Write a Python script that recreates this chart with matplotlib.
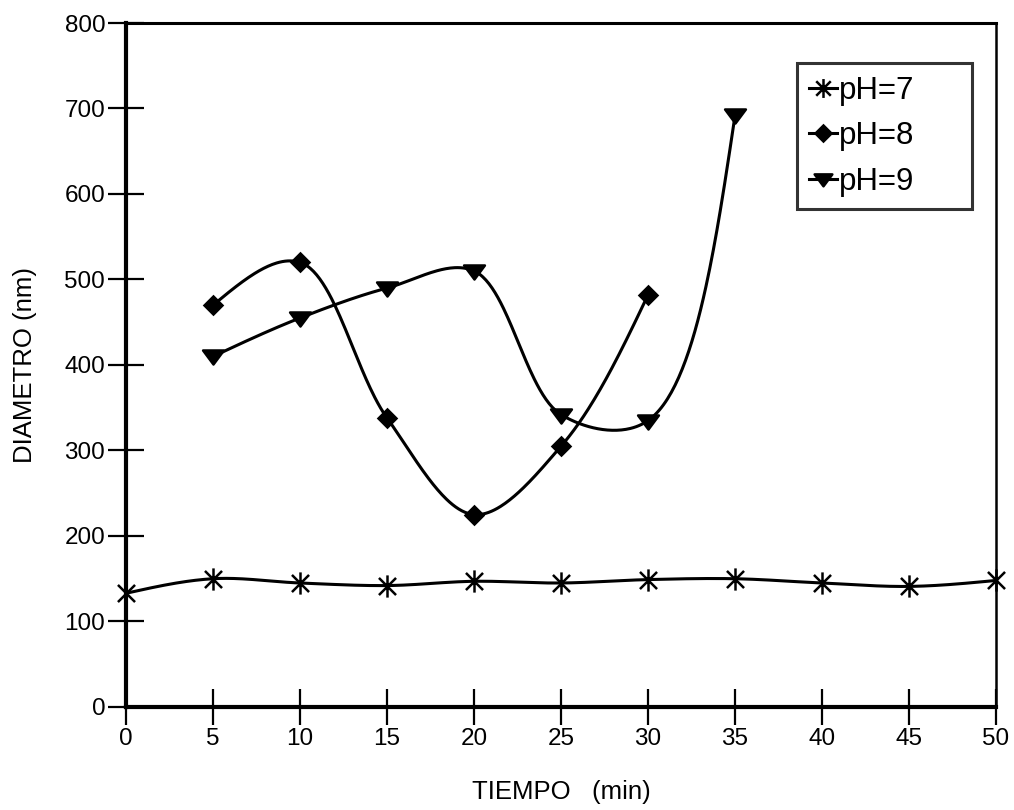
import numpy as np
import matplotlib
matplotlib.use("Agg")
import matplotlib.pyplot as plt
from matplotlib.path import Path

plt.rcParams['font.family'] = ['Liberation Sans', 'DejaVu Sans']

# tiempo (min) y diametro (nm) para cada pH
t_ph7 = [0, 5, 10, 15, 20, 25, 30, 35, 40, 45, 50]
d_ph7 = [133, 150, 145, 142, 147, 145, 149, 150, 145, 141, 148]

t_ph8 = [5, 10, 15, 20, 25, 30]
d_ph8 = [470, 520, 338, 225, 305, 482]

t_ph9 = [5, 10, 15, 20, 25, 30, 35]
d_ph9 = [410, 455, 490, 510, 342, 335, 692]

labels = ['pH=7', 'pH=8', 'pH=9']
xticks = list(range(0, 55, 5))
yticks = list(range(0, 900, 100))

# marcador asterisco: aspa + trazo vertical
star = Path([(-1, -1), (1, 1), (-1, 1), (1, -1), (0, -1.3), (0, 1.3)],
            [Path.MOVETO, Path.LINETO, Path.MOVETO, Path.LINETO, Path.MOVETO, Path.LINETO])
# triangulo invertido algo achatado
tri = Path([(-1.3, 0.75), (1.3, 0.75), (0, -1.0), (-1.3, 0.75)],
           [Path.MOVETO, Path.LINETO, Path.LINETO, Path.CLOSEPOLY])

# escala aproximada en pixeles por unidad (para el suavizado)
SX, SY = 87 / 5, 0.855


def suave(x, y, n=60, alpha=0.5):
    # Catmull-Rom centripeto con extremos naturales, en espacio de pixeles
    p = np.column_stack([np.asarray(x, float) * SX, np.asarray(y, float) * SY])
    k = len(p)
    h = np.hypot(*(p[1:] - p[:-1]).T) ** alpha
    m = np.zeros_like(p)
    for i in range(1, k - 1):
        m[i] = (p[i] - p[i - 1]) / h[i - 1] - (p[i + 1] - p[i - 1]) / (h[i - 1] + h[i]) \
            + (p[i + 1] - p[i]) / h[i]
    if k > 2:
        m[0] = 1.5 * (p[1] - p[0]) / h[0] - 0.5 * m[1]
        m[-1] = 1.5 * (p[-1] - p[-2]) / h[-1] - 0.5 * m[-2]
    else:
        m[0] = m[-1] = (p[1] - p[0]) / h[0]
    s = np.linspace(0, 1, n)[:, None]
    h00 = 2 * s ** 3 - 3 * s ** 2 + 1
    h10 = s ** 3 - 2 * s ** 2 + s
    h01 = -2 * s ** 3 + 3 * s ** 2
    h11 = s ** 3 - s ** 2
    pts = [h00 * p[i] + h10 * m[i] * h[i] + h01 * p[i + 1] + h11 * m[i + 1] * h[i]
           for i in range(k - 1)]
    pts = np.vstack(pts)
    return pts[:, 0] / SX, pts[:, 1] / SY


fig = plt.figure(figsize=(10.14, 8.10), dpi=100)
ax = fig.add_axes([0.1243, 0.1272, 0.858, 0.8444])

series = [(t_ph7, d_ph7, star, 16), (t_ph8, d_ph8, 'D', 9.5), (t_ph9, d_ph9, tri, 15)]
for (t, d, mk, ms), lab in zip(series, labels):
    xs, ys = suave(t, d)
    ax.plot(xs, ys, color='black', lw=2.2, zorder=2, clip_on=False)
    ax.plot(t, d, linestyle='none', marker=mk, markersize=ms, color='black',
            markeredgewidth=1.8, zorder=3, clip_on=False)
    ax.plot([], [], color='black', lw=2.2, marker=mk, markersize=ms,
            markeredgewidth=1.8, label=lab)

ax.set_xlim(0, 50)
ax.set_ylim(0, 800)
ax.set_xticks(xticks)
ax.set_yticks(yticks)
ax.tick_params(direction='inout', length=26, width=1.6, labelsize=17.5, colors='black')
ax.tick_params(axis='x', pad=2)
ax.tick_params(axis='y', pad=2)

ax.spines['left'].set_linewidth(3)
ax.spines['bottom'].set_linewidth(3)
ax.spines['top'].set_linewidth(2.2)
ax.spines['right'].set_linewidth(1.8)

ax.set_xlabel('TIEMPO   (min)', fontsize=18.5, labelpad=22)
ax.set_ylabel('DIAMETRO (nm)', fontsize=18.5, labelpad=20)

leg = ax.legend(loc='upper left', bbox_to_anchor=(0.771, 0.5, 0.201, 0.4415), mode='expand',
                borderaxespad=0, fontsize=22.5, frameon=True, fancybox=False, handlelength=0.9,
                handletextpad=0.05, labelspacing=0.5, borderpad=0.4, markerscale=0.85)
leg.get_frame().set_edgecolor('black')
leg.get_frame().set_linewidth(2.2)

fig.savefig('out.png', dpi=100)
